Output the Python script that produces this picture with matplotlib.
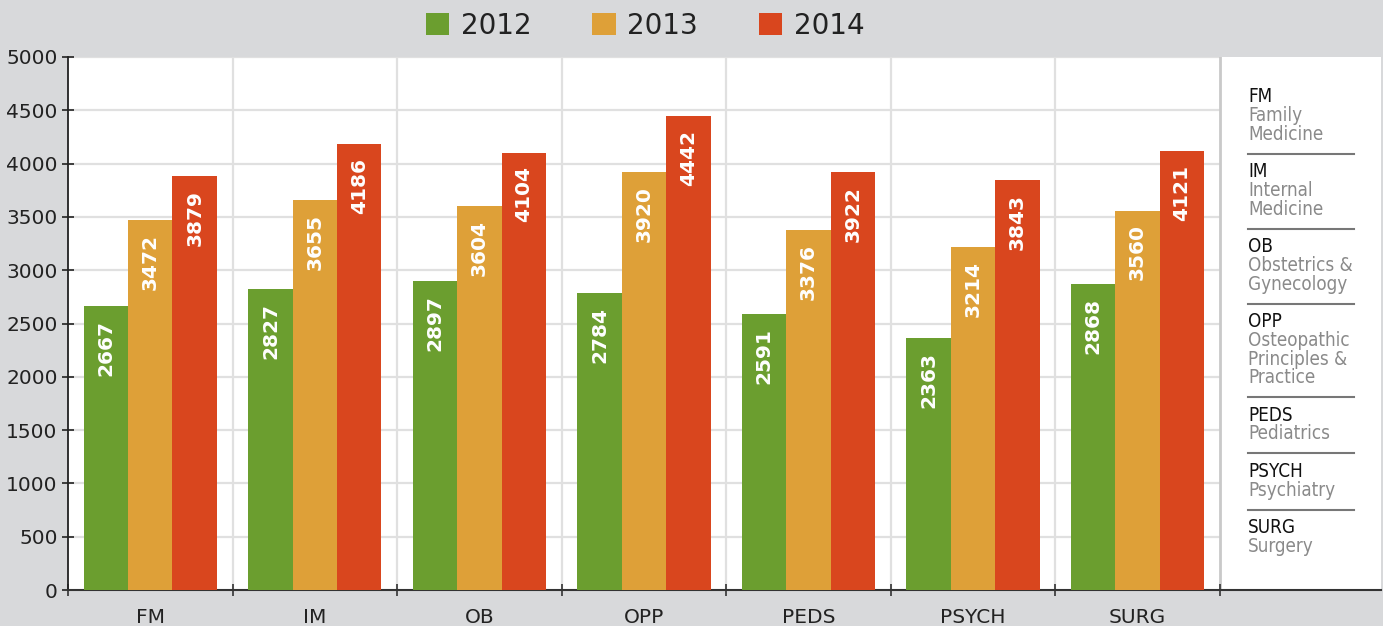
import matplotlib
matplotlib.use("Agg")
import matplotlib.pyplot as plt
from matplotlib.patches import Patch
import numpy as np

# data
specialties = ["FM", "IM", "OB", "OPP", "PEDS", "PSYCH", "SURG"]
years = ["2012", "2013", "2014"]
vals_2012 = [2667, 2827, 2897, 2784, 2591, 2363, 2868]
vals_2013 = [3472, 3655, 3604, 3920, 3376, 3214, 3560]
vals_2014 = [3879, 4186, 4104, 4442, 3922, 3843, 4121]
descriptions = [
    ["Family", "Medicine"],
    ["Internal", "Medicine"],
    ["Obstetrics &", "Gynecology"],
    ["Osteopathic", "Principles &", "Practice"],
    ["Pediatrics"],
    ["Psychiatry"],
    ["Surgery"],
]

colors = ["#6b9e2f", "#dea038", "#d9461e"]
bg = "#d8d9db"

W, H = 1383, 626
fig = plt.figure(figsize=(W / 100, H / 100), dpi=100, facecolor=bg)
ax = fig.add_axes([68 / W, 1 - 590 / H, (1381 - 68) / W, (590 - 57) / H])
ax.set_facecolor("white")

x = np.arange(len(specialties))
width = 0.27
for i, (vals, c) in enumerate(zip([vals_2012, vals_2013, vals_2014], colors)):
    pos = x + (i - 1) * width
    ax.bar(pos, vals, width, color=c, zorder=3)
    for xp, v in zip(pos, vals):
        ax.annotate(str(v), (xp, v), xytext=(0, -10), textcoords="offset points",
                    rotation=90, ha="center", va="top", color="white",
                    fontsize=14.5, fontweight="bold", zorder=4)

yt = np.arange(0, 5001, 500)
ax.set_xlim(-0.5, 7.48)
ax.set_ylim(0, 5000)
ax.set_yticks(yt)
ax.set_xticks(x)
ax.set_xticklabels(specialties)
ax.set_xticks(np.arange(-0.5, 7, 1), minor=True)

ax.tick_params(axis="y", direction="inout", length=9, width=1.2, pad=3,
               labelsize=14.5, colors="#222222")
ax.tick_params(axis="x", which="major", length=0, pad=13, labelsize=14.5,
               labelcolor="#222222")
ax.tick_params(axis="x", which="minor", direction="inout", length=9, width=1.2,
               color="#333333")

# grid only over the bar area, not the key panel
ax.hlines(yt[1:], -0.5, 6.5, color="#e0e0e0", linewidth=1.6, zorder=0)
for b in np.arange(0.5, 6, 1):
    ax.axvline(b, color="#e0e0e0", linewidth=1.6, zorder=0)
ax.axvline(6.5, color="#c9c9c9", linewidth=2, zorder=1)

for s in ["top", "right"]:
    ax.spines[s].set_visible(False)
ax.spines["left"].set_color("#222222")
ax.spines["left"].set_linewidth(1.3)
ax.spines["bottom"].set_color("#333333")
ax.spines["bottom"].set_linewidth(1.5)

# legend on top
handles = [Patch(facecolor=c, edgecolor="none") for c in colors]
fig.legend(handles, years, loc="center", bbox_to_anchor=(645 / W, 1 - 26 / H),
           ncol=3, frameon=False, fontsize=20, handlelength=0.85,
           handleheight=0.85, handletextpad=0.4, columnspacing=2.2,
           labelcolor="#222222")

# specialty key panel
tx = 1248 / W
ypix = 97
step = 18.7
for k, (abbr, desc) in enumerate(zip(specialties, descriptions)):
    fig.text(tx, 1 - ypix / H, abbr, fontsize=13.5, color="#111111",
             family="DejaVu Sans", stretch="condensed", va="center", ha="left")
    for line in desc:
        ypix += step
        fig.text(tx, 1 - ypix / H, line, fontsize=13.5, color="#8a8a8a",
                 family="DejaVu Sans", stretch="condensed", va="center", ha="left")
    if k < len(specialties) - 1:
        ypix += 19.5
        fig.add_artist(plt.Line2D([1248 / W, 1354 / W], [1 - ypix / H] * 2,
                                  color="#777777", linewidth=1.5))
        ypix += 18

fig.savefig("out.png", dpi=100, facecolor=bg)
